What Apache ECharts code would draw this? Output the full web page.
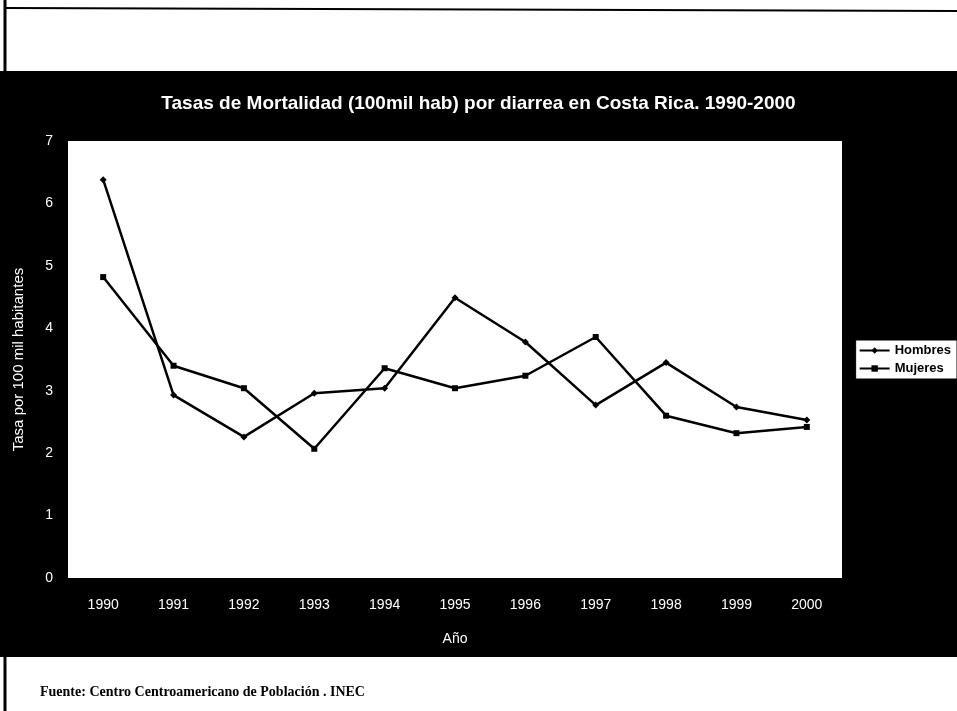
<!DOCTYPE html>
<html>
<head>
<meta charset="utf-8">
<script src="https://cdn.jsdelivr.net/npm/echarts@6/dist/echarts.min.js"></script>
<style>
  html, body { margin: 0; padding: 0; background: #fff; }
  #chart { width: 957px; height: 711px; }
</style>
</head>
<body>
<div id="chart"></div>
<script>
const years = ['1990', '1991', '1992', '1993', '1994', '1995', '1996', '1997', '1998', '1999', '2000'];
const hombres = [6.38, 2.93, 2.26, 2.96, 3.04, 4.49, 3.78, 2.77, 3.45, 2.74, 2.53];
const mujeres = [4.82, 3.40, 3.04, 2.07, 3.36, 3.04, 3.24, 3.86, 2.60, 2.32, 2.42];

const chart = echarts.init(document.getElementById('chart'));

const font = 'Liberation Sans, Arial, sans-serif';

const option = {
  backgroundColor: '#000',
  animation: false,
  textStyle: { fontFamily: font },
  title: {
    text: 'Tasas de Mortalidad (100mil hab) por diarrea en Costa Rica. 1990-2000',
    left: 'center',
    top: 89,
    textStyle: { color: '#fff', fontSize: 19, fontWeight: 'bold', fontFamily: font }
  },
  graphic: [
    // white band at the top
    { type: 'rect', shape: { x: 0, y: 0, width: 957, height: 71 }, style: { fill: '#fff' }, z: -1 },
    { type: 'line', shape: { x1: 6, y1: 8, x2: 957, y2: 11 }, style: { stroke: '#000', lineWidth: 2 } },
    // footer
    { type: 'rect', shape: { x: 0, y: 657, width: 957, height: 54 }, style: { fill: '#fff' }, z: -1 },
    { type: 'line', shape: { x1: 5, y1: 0, x2: 5, y2: 711 }, style: { stroke: '#000', lineWidth: 3 } },
    {
      type: 'text', left: 40, top: 685,
      style: {
        text: 'Fuente: Centro Centroamericano de Población . INEC',
        fill: '#000', font: 'bold 14px "Liberation Serif", "Times New Roman", serif'
      }
    }
  ],
  legend: {
    orient: 'vertical',
    right: 0,
    top: 340,
    backgroundColor: '#fff',
    borderColor: '#000',
    borderWidth: 1,
    padding: [4, 6, 4, 3],
    itemGap: 5,
    itemWidth: 30,
    itemHeight: 8,
    textStyle: { color: '#000', fontSize: 13, fontWeight: 'bold', fontFamily: font },
    data: ['Hombres', 'Mujeres']
  },
  grid: {
    left: 68, right: 115, top: 141, bottom: 133,
    show: true, backgroundColor: '#fff', borderWidth: 0
  },
  xAxis: {
    type: 'category',
    data: years,
    boundaryGap: true,
    name: 'Año',
    nameLocation: 'middle',
    nameGap: 54,
    nameTextStyle: { color: '#fff', fontSize: 14, fontFamily: font },
    axisLine: { show: false },
    axisTick: { show: false },
    axisLabel: { color: '#fff', fontSize: 14, margin: 20, fontFamily: font },
    splitLine: { show: false }
  },
  yAxis: {
    type: 'value',
    min: 0,
    max: 7,
    interval: 1,
    name: 'Tasa por 100 mil habitantes',
    nameLocation: 'middle',
    nameGap: 42,
    nameTextStyle: { color: '#fff', fontSize: 15, fontFamily: font },
    axisLine: { show: false },
    axisTick: { show: false },
    axisLabel: { color: '#fff', fontSize: 14, margin: 15, fontFamily: font },
    splitLine: { show: false }
  },
  series: [
    {
      name: 'Hombres',
      type: 'line',
      data: hombres,
      symbol: 'diamond',
      symbolSize: 7,
      color: '#000',
      lineStyle: { color: '#000', width: 2.5 },
      itemStyle: { color: '#000' }
    },
    {
      name: 'Mujeres',
      type: 'line',
      data: mujeres,
      symbol: 'rect',
      symbolSize: 6,
      color: '#000',
      lineStyle: { color: '#000', width: 2.5 },
      itemStyle: { color: '#000' }
    }
  ]
};

chart.setOption(option);
</script>
</body>
</html>
